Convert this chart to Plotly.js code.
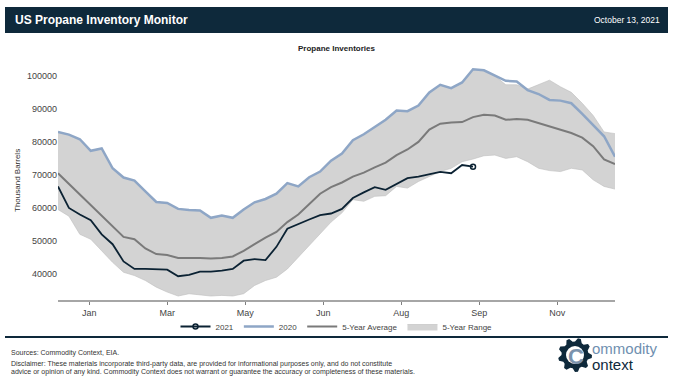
<!DOCTYPE html>
<html>
<head>
<meta charset="utf-8">
<script src="https://cdn.plot.ly/plotly-3.0.1.min.js"></script>
<style>html,body{margin:0;padding:0;background:#fff;}#chart{width:673px;height:384px;}</style>
</head>
<body>
<div id="chart"></div>
<script>
// ---- data (thousand barrels, weekly) ----
const weeks = Array.from({length: 52}, (_, i) => i + 1);
const inv2021 = [66500, 60000, 58000, 56300, 52000, 49000, 43800, 41500, 41500, 41300,
  41300, 39300, 39700, 40700, 40700, 41000, 41500, 44000, 44500, 44200,
  48200, 53700, 55200, 56500, 57800, 58300, 59700, 63000, 64700, 66300,
  65500, 67300, 69000, 69500, 70300, 70900, 70500, 73000, 72500];
const inv2020 = [83000, 82200, 80800, 77300, 78000, 72000, 69200, 68300, 65000, 61800,
  61500, 59700, 59400, 59200, 57000, 57700, 57000, 59500, 61700, 62700,
  64300, 67500, 66500, 69300, 71000, 74300, 76500, 80500, 82300, 84500,
  86700, 89500, 89300, 91000, 95000, 97300, 96300, 98000, 102000, 101700,
  100000, 98500, 98300, 95700, 94500, 92700, 92500, 91700, 88500, 85000,
  81700, 75500];
const avg5 = [70500, 67300, 64100, 60900, 57700, 54500, 51200, 50500, 47700, 46000,
  45700, 44800, 44900, 44800, 44700, 44800, 45300, 47000, 49000, 51000,
  52700, 55700, 58000, 61000, 64300, 66300, 67700, 69500, 70700, 72300,
  73700, 76000, 77700, 80000, 83700, 85500, 85900, 86000, 87500, 88200,
  88000, 86700, 86900, 86700, 85700, 84700, 83700, 82700, 81300, 78700,
  74700, 73300];
const rangeMin = [59500, 57500, 52000, 50500, 47000, 43500, 40500, 39500, 38000, 36000,
  34500, 33300, 34000, 33600, 33300, 33500, 33300, 34000, 36500, 38000,
  39000, 41500, 45000, 48500, 52000, 55700, 58500, 62500, 62000, 63500,
  63700, 66500, 66000, 68000, 69500, 71000, 72000, 74000, 74800, 75800,
  76000, 75000, 75500, 74000, 72000, 71300, 71000, 72000, 71500, 68500,
  66500, 65700];
const rangeMax = [83000, 82200, 80800, 77300, 78000, 72000, 69200, 68300, 65000, 61800,
  61500, 59700, 59400, 59200, 57000, 57700, 57000, 59500, 61700, 62700,
  64300, 67500, 66500, 69300, 71000, 74300, 76500, 80500, 82300, 84500,
  86700, 89500, 89300, 91000, 95000, 97300, 96300, 98000, 102000, 101700,
  100000, 97300, 97300, 96000, 97300, 98700, 96700, 95000, 91700, 88000,
  83000, 82500];
const tickWeeks = [3.86, 11.0, 18.14, 25.29, 32.43, 39.57, 46.71];
const tickLabels = ['Jan', 'Mar', 'May', 'Jun', 'Aug', 'Sep', 'Nov'];
const yTicks = [40000, 50000, 60000, 70000, 80000, 90000, 100000];
const yTickLabels = ['40000', '50000', '60000', '70000', '80000', '90000', '100000'];

// ---- layout geometry ----
const L = 58, R = 615, T = 62, B = 300;
const px = p => (p - L) / (R - L);
const py = p => (B - p) / (B - T);
const FONT = 'Liberation Sans, Arial, sans-serif';
const NAVY = '#0e293b';

const last = inv2021.length - 1;
const traces = [
  {x: weeks, y: rangeMin, type: 'scatter', mode: 'lines', line: {color: '#bdbdbd', width: 0.6},
   showlegend: false, hoverinfo: 'skip'},
  {x: weeks, y: rangeMax, type: 'scatter', mode: 'lines', fill: 'tonexty', fillcolor: '#d3d3d3',
   line: {color: '#bdbdbd', width: 0.6}, name: '5-Year Range', legendrank: 4},
  {x: weeks, y: avg5, type: 'scatter', mode: 'lines', line: {color: '#7a7a7a', width: 2},
   name: '5-Year Average', legendrank: 3},
  {x: weeks, y: inv2020, type: 'scatter', mode: 'lines', line: {color: '#8ea6c6', width: 2.5},
   name: '2020', legendrank: 2},
  {x: weeks.slice(0, inv2021.length), y: inv2021, type: 'scatter', mode: 'lines',
   line: {color: '#0b2233', width: 1.8}, showlegend: false},
  {x: [weeks[last]], y: [inv2021[last]], type: 'scatter', mode: 'lines+markers',
   line: {color: '#0b2233', width: 1.8},
   marker: {symbol: 'circle-open', size: 5, color: '#0b2233', line: {width: 1.5}},
   name: '2021', legendrank: 1}
];

// gear path for logo
function gearPath(cx, cy, rOut, rIn, teeth) {
  const pts = [];
  const n = teeth * 4;
  for (let i = 0; i < n; i++) {
    const a = (i / n) * 2 * Math.PI;
    const r = (i % 4 === 0 || i % 4 === 1) ? rOut : rIn;
    pts.push([cx + r * Math.cos(a), cy + r * Math.sin(a)]);
  }
  return 'M' + pts.map(p => px(p[0]).toFixed(5) + ',' + py(p[1]).toFixed(5)).join('L') + 'Z';
}

const shapes = [
  {type: 'rect', xref: 'paper', yref: 'paper', x0: px(5), x1: px(668), y0: py(7), y1: py(33),
   fillcolor: NAVY, line: {width: 0}, layer: 'above'},
  {type: 'line', xref: 'paper', yref: 'paper', x0: px(5), x1: px(668), y0: py(337), y1: py(337),
   line: {color: NAVY, width: 2}},
  {type: 'path', xref: 'paper', yref: 'paper', path: gearPath(575, 355, 17, 13.5, 9),
   fillcolor: NAVY, line: {width: 0}},
  {type: 'circle', xref: 'paper', yref: 'paper', x0: px(566), x1: px(584), y0: py(346), y1: py(364),
   fillcolor: '#ffffff', line: {width: 0}}
];

const ann = (text, x, y, size, color, xanchor, extra) => Object.assign({
  text, xref: 'paper', yref: 'paper', x: px(x), y: py(y), showarrow: false,
  xanchor: xanchor, yanchor: 'middle', font: {family: FONT, size: size, color: color}
}, extra || {});

const annotations = [
  ann('<b>US Propane Inventory Monitor</b>', 13, 20.5, 12, '#ffffff', 'left'),
  ann('October 13, 2021', 662, 20.5, 8.5, '#ffffff', 'right'),
  ann('<b>Propane Inventories</b>', 336.5, 48, 8, '#222222', 'center'),
  ann('Thousand Barrels', 17, 181, 8, '#333333', 'center', {textangle: -90}),
  ann('Sources: Commodity Context, EIA.', 9, 353, 7, '#333333', 'left'),
  ann('Disclaimer: These materials incorporate third-party data, are provided for informational purposes only, and do not constitute', 9, 363.5, 7, '#333333', 'left'),
  ann('advice or opinion of any kind. Commodity Context does not warrant or guarantee the accuracy or completeness of these materials.', 9, 372, 7, '#333333', 'left'),
  ann('<b>C</b>', 576, 356, 22, '#7b93ad', 'center'),
  ann('ommodity', 590, 348, 15, '#6f8fb0', 'left'),
  ann('ontext', 590, 364, 15, NAVY, 'left')
];

const layout = {
  width: 673, height: 384,
  margin: {l: L, r: 673 - R, t: T, b: 384 - B},
  paper_bgcolor: '#ffffff', plot_bgcolor: '#ffffff',
  font: {family: FONT, size: 9, color: '#444444'},
  showlegend: true,
  legend: {orientation: 'h', x: 0.5, xanchor: 'center', y: py(326.5), yanchor: 'middle',
    font: {family: FONT, size: 8, color: '#444444'}, bgcolor: 'rgba(0,0,0,0)', traceorder: 'normal'},
  xaxis: {range: [1, 52], tickvals: tickWeeks, ticktext: tickLabels, showgrid: false, zeroline: false,
    showline: true, linecolor: '#a6a6a6', linewidth: 2, ticks: 'outside', ticklen: 3,
    tickcolor: '#7f7f7f', tickwidth: 1, tickfont: {family: FONT, size: 9, color: '#444444'}, fixedrange: true},
  yaxis: {range: [32100, 104200], tickvals: yTicks, ticktext: yTickLabels, showgrid: false, zeroline: false,
    showline: false, ticks: '', tickfont: {family: FONT, size: 9, color: '#444444'}, fixedrange: true},
  shapes: shapes,
  annotations: annotations
};

Plotly.newPlot('chart', traces, layout, {displayModeBar: false, staticPlot: true});
</script>
</body>
</html>
